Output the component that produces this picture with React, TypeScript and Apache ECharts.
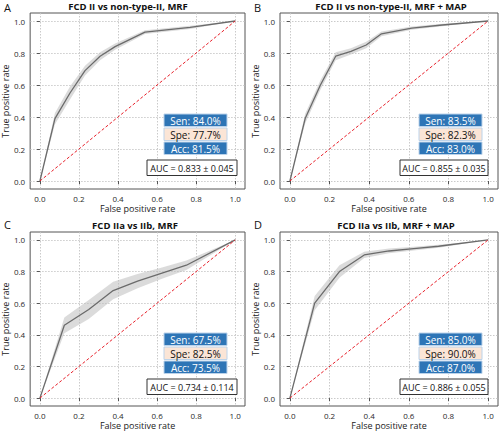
import React, { useEffect, useRef } from "react";
import * as echarts from "echarts";

const tickValues = [0, 0.2, 0.4, 0.6, 0.8, 1.0];
const panelLetters = ["A", "B", "C", "D"];
const panelTitles = [
  "FCD II vs non-type-II, MRF",
  "FCD II vs non-type-II, MRF + MAP",
  "FCD IIa vs IIb, MRF",
  "FCD IIa vs IIb, MRF + MAP",
];

const fprA = [0, 0.077, 0.154, 0.231, 0.308, 0.385, 0.538, 0.769, 1.0];
const tprA = [0, 0.39, 0.55, 0.69, 0.78, 0.84, 0.93, 0.96, 1.0];
const stdA = [0, 0.035, 0.04, 0.03, 0.025, 0.02, 0.012, 0.01, 0];

const fprB = [0, 0.077, 0.154, 0.231, 0.308, 0.385, 0.462, 0.615, 0.769, 1.0];
const tprB = [0, 0.39, 0.6, 0.78, 0.81, 0.85, 0.92, 0.955, 0.975, 1.0];
const stdB = [0, 0.03, 0.03, 0.025, 0.02, 0.02, 0.015, 0.01, 0.008, 0];

const fprC = [0, 0.125, 0.25, 0.375, 0.5, 0.625, 0.75, 1.0];
const tprC = [0, 0.46, 0.56, 0.68, 0.74, 0.79, 0.84, 1.0];
const stdC = [0, 0.05, 0.06, 0.055, 0.045, 0.035, 0.03, 0];

const fprD = [0, 0.125, 0.25, 0.375, 0.5, 0.625, 0.75, 1.0];
const tprD = [0, 0.6, 0.8, 0.905, 0.93, 0.945, 0.96, 1.0];
const stdD = [0, 0.045, 0.04, 0.02, 0.015, 0.012, 0.01, 0];

const fprs = [fprA, fprB, fprC, fprD];
const tprs = [tprA, tprB, tprC, tprD];
const stds = [stdA, stdB, stdC, stdD];

const senLabels = ["Sen: 84.0%", "Sen: 83.5%", "Sen: 67.5%", "Sen: 85.0%"];
const speLabels = ["Spe: 77.7%", "Spe: 82.3%", "Spe: 82.5%", "Spe: 90.0%"];
const accLabels = ["Acc: 81.5%", "Acc: 83.0%", "Acc: 73.5%", "Acc: 87.0%"];
const aucLabels = [
  "AUC = 0.833 ± 0.045",
  "AUC = 0.855 ± 0.035",
  "AUC = 0.734 ± 0.114",
  "AUC = 0.886 ± 0.055",
];
const diagonal = [
  [0, 0],
  [1, 1],
];

const FONT = "'Open Sans', 'Noto Sans', sans-serif";
const GRID_W = 218;
const GRID_H = 176;
const gridPos = [
  { left: 27, top: 13 },
  { left: 280, top: 13 },
  { left: 27, top: 232 },
  { left: 280, top: 232 },
];
const titleCenters = [128, 391, 135, 396];
const letterPos = [
  { x: 4, y: 7 },
  { x: 254, y: 7 },
  { x: 4, y: 224 },
  { x: 254, y: 224 },
];

export default function App() {
  const ref = useRef<HTMLDivElement>(null);
  useEffect(() => {
    document.body.style.margin = "0";
    if (!ref.current) return;
    const chart = echarts.init(ref.current, undefined, { renderer: "svg" });

    const grids: any[] = [];
    const xAxes: any[] = [];
    const yAxes: any[] = [];
    const series: any[] = [];
    const graphics: any[] = [];

    for (let p = 0; p < 4; p++) {
      const g = gridPos[p];
      grids.push({
        left: g.left,
        top: g.top,
        width: GRID_W,
        height: GRID_H,
        show: true,
        borderColor: "#555",
        borderWidth: 1,
        backgroundColor: "#fff",
        containLabel: false,
      });
      const axisCommon = {
        type: "value",
        min: -0.05,
        max: 1.05,
        gridIndex: p,
        nameLocation: "middle",
        axisLine: { show: false },
        axisTick: {
          show: true,
          length: 3,
          inside: false,
          customValues: tickValues,
          lineStyle: { color: "#555", width: 1 },
        },
        axisLabel: {
          customValues: tickValues,
          fontFamily: FONT,
          fontSize: 8,
          lineHeight: 8,
          color: "#2a2a2a",
          formatter: (v: number) => v.toFixed(1),
        },
        splitLine: {
          show: true,
          lineStyle: { color: "#c4c4c4", type: [1.5, 1.5], width: 0.9 },
        },
      };
      xAxes.push({
        ...axisCommon,
        name: "False positive rate",
        nameGap: 15,
        nameTextStyle: { fontFamily: FONT, fontSize: 9, lineHeight: 9, color: "#222" },
        axisLabel: { ...axisCommon.axisLabel, margin: 5 },
      });
      yAxes.push({
        ...axisCommon,
        name: "True positive rate",
        nameGap: 20,
        nameTextStyle: { fontFamily: FONT, fontSize: 9, lineHeight: 9, color: "#222" },
        axisLabel: { ...axisCommon.axisLabel, margin: 5 },
      });

      const fpr = fprs[p];
      const tpr = tprs[p];
      const sd = stds[p];
      series.push({
        type: "custom",
        xAxisIndex: p,
        yAxisIndex: p,
        data: [[0, 0]],
        silent: true,
        z: 2,
        renderItem: (_params: any, api: any) => {
          const pts: number[][] = [];
          for (let i = 0; i < fpr.length; i++) {
            pts.push(api.coord([fpr[i], Math.min(1, tpr[i] + sd[i])]));
          }
          for (let i = fpr.length - 1; i >= 0; i--) {
            pts.push(api.coord([fpr[i], Math.max(0, tpr[i] - sd[i])]));
          }
          return {
            type: "polygon",
            shape: { points: pts },
            style: { fill: "rgba(190,190,190,0.55)", stroke: "none" },
          };
        },
      });
      series.push({
        type: "line",
        xAxisIndex: p,
        yAxisIndex: p,
        data: fpr.map((x, i) => [x, tpr[i]]),
        showSymbol: false,
        z: 3,
        lineStyle: { color: "#6b6b6b", width: 1.3 },
      });
      series.push({
        type: "line",
        xAxisIndex: p,
        yAxisIndex: p,
        data: diagonal,
        showSymbol: false,
        z: 4,
        lineStyle: { color: "#e8202a", width: 1, type: [3, 2] },
      });

      graphics.push({
        type: "text",
        x: titleCenters[p],
        y: g.top - 7,
        style: {
          text: panelTitles[p],
          font: `bold 9.5px ${FONT}`,
          fill: "#111",
          textAlign: "center",
          textVerticalAlign: "middle",
        },
      });
      graphics.push({
        type: "text",
        x: letterPos[p].x,
        y: letterPos[p].y,
        style: {
          text: panelLetters[p],
          font: `11px ${FONT}`,
          fill: "#111",
          textAlign: "left",
          textVerticalAlign: "middle",
        },
      });

      const bx = g.left + (p % 2 === 0 ? 137 : 139);
      const bw = 63;
      const boxes = [
        { y: 101, text: senLabels[p], fill: "#2e75b6", color: "#fff" },
        { y: 115, text: speLabels[p], fill: "#fbe5d6", color: "#111" },
        { y: 129, text: accLabels[p], fill: "#2e75b6", color: "#fff" },
      ];
      boxes.forEach((b) => {
        graphics.push({
          type: "rect",
          x: bx,
          y: g.top + b.y,
          shape: { width: bw, height: 12.5 },
          style: { fill: b.fill, stroke: "#bcd3ea", lineWidth: 1 },
          z: 10,
        });
        graphics.push({
          type: "text",
          x: bx + bw / 2,
          y: g.top + b.y + 6.5,
          z: 11,
          style: {
            text: b.text,
            font: `10px ${FONT}`,
            fill: b.color,
            textAlign: "center",
            textVerticalAlign: "middle",
          },
        });
      });
      const ax = g.left + 120;
      const aw = p % 2 === 0 ? 90 : 88;
      graphics.push({
        type: "rect",
        x: ax,
        y: g.top + 147,
        shape: { width: aw, height: 15.5 },
        style: { fill: "#fff", stroke: "#333", lineWidth: 1 },
        z: 10,
      });
      graphics.push({
        type: "text",
        x: ax + aw / 2,
        y: g.top + 147 + 8,
        z: 11,
        style: {
          text: aucLabels[p],
          font: `9px ${FONT}`,
          fill: "#111",
          textAlign: "center",
          textVerticalAlign: "middle",
        },
      });
    }

    chart.setOption({
      animation: false,
      backgroundColor: "#fff",
      grid: grids,
      xAxis: xAxes,
      yAxis: yAxes,
      series,
      graphic: graphics,
    });
    return () => chart.dispose();
  }, []);
  return <div ref={ref} style={{ width: 500, height: 431 }} />;
}
